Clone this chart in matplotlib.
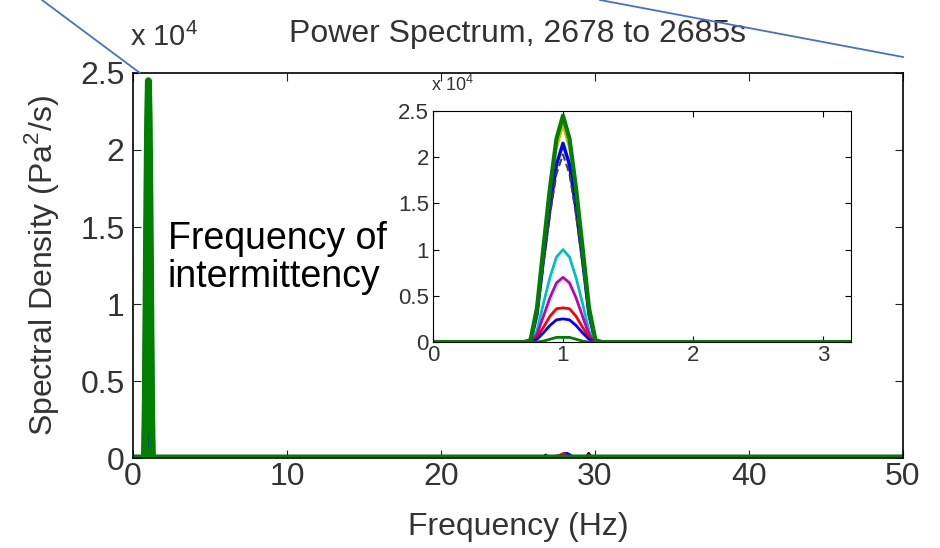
import matplotlib
matplotlib.use("Agg")
import matplotlib.pyplot as plt
from matplotlib.lines import Line2D

plt.rcParams['font.family'] = ['Liberation Sans', 'DejaVu Sans']
plt.rcParams['mathtext.fontset'] = 'custom'
plt.rcParams['mathtext.rm'] = 'Liberation Sans'

# peak around the intermittency frequency (Hz), values in 1e4 Pa^2/s
freq = [0.0, 0.70, 0.75, 0.80, 0.85, 0.90, 0.95, 1.00, 1.05, 1.10, 1.15, 1.20, 1.25, 1.30, 50.0]
yellow = [0, 0, 0.02, 0.35, 0.98, 1.60, 2.10, 2.35, 2.10, 1.60, 0.98, 0.35, 0.02, 0, 0]
blue1 = [0, 0, 0, 0.30, 0.90, 1.45, 1.92, 2.15, 1.92, 1.45, 0.90, 0.30, 0, 0, 0]
gray = [0, 0, 0, 0.28, 0.85, 1.38, 1.82, 2.03, 1.82, 1.38, 0.85, 0.28, 0, 0, 0]
cyan = [0, 0, 0, 0.12, 0.42, 0.70, 0.92, 1.00, 0.92, 0.70, 0.42, 0.12, 0, 0, 0]
magenta = [0, 0, 0, 0.08, 0.28, 0.48, 0.64, 0.70, 0.64, 0.48, 0.28, 0.08, 0, 0, 0]
red = [0, 0, 0, 0.05, 0.16, 0.28, 0.36, 0.37, 0.36, 0.28, 0.16, 0.05, 0, 0, 0]
blue2 = [0, 0, 0, 0.03, 0.10, 0.18, 0.24, 0.25, 0.24, 0.18, 0.10, 0.03, 0, 0, 0]
green2 = [0, 0, 0, 0, 0.01, 0.03, 0.05, 0.05, 0.05, 0.03, 0.01, 0, 0, 0, 0]
green = [0, 0, 0.02, 0.37, 1.03, 1.67, 2.20, 2.45, 2.20, 1.67, 1.03, 0.37, 0.02, 0, 0]

# small bumps near 28 Hz
blip_freq = [26.6, 26.8, 27.0, 27.8, 28.0, 28.2, 28.4, 28.6, 29.4, 29.6, 29.8]
blip_blue = [0, 0, 0, 0.02, 0.03, 0.03, 0.02, 0, 0, 0, 0]
blip_red = [0, 0, 0, 0.02, 0.03, 0, 0, 0, 0, 0.02, 0]
blip_black = [0, 0.02, 0, 0, 0, 0, 0, 0, 0, 0.03, 0]

series = [
    (yellow, (0.75, 0.75, 0), '-', 2),
    (blue1, (0, 0, 1), '-', 2.5),
    (gray, (0.25, 0.25, 0.25), '--', 1.5),
    (cyan, (0, 0.75, 0.75), '-', 2),
    (magenta, (0.75, 0, 0.75), '-', 2),
    (red, (1, 0, 0), '-', 2),
    (blue2, (0, 0, 1), '-', 2),
    (green2, (0, 0.5, 0), '-', 2),
    (green, (0, 0.5, 0), '-', 3),
]

txt = '#333333'
fig = plt.figure(figsize=(9.4, 5.48), dpi=100)
ax = fig.add_axes([0.1415, 0.1642, 0.819, 0.7026])

ax.plot(blip_freq, blip_black, color='k', lw=2)
ax.plot(blip_freq, blip_blue, color='b', lw=2)
ax.plot(blip_freq, blip_red, color='r', lw=2)
for vals, c, ls, lw in series:
    ax.plot(freq, vals, color=c, ls=ls, lw=lw + 2)

ax.set_xlim(0, 50)
ax.set_ylim(0, 2.5)
ax.set_xticks([0, 10, 20, 30, 40, 50])
ax.set_yticks([0, 0.5, 1, 1.5, 2, 2.5])
ax.set_yticklabels(['0', '0.5', '1', '1.5', '2', '2.5'])
ax.tick_params(direction='in', top=True, right=True, labelsize=23, length=6,
               color='#222222', labelcolor=txt, pad=3)
ax.tick_params(axis='y', pad=6)
for s in ax.spines.values():
    s.set_linewidth(1.2)
ax.set_title('Power Spectrum, 2678 to 2685s', fontsize=23, color=txt, pad=22)
ax.set_xlabel('Frequency (Hz)', fontsize=23, color=txt, labelpad=14)
ax.set_ylabel('Spectral Density (Pa$^2$/s)', fontsize=23, color=txt, labelpad=14)
fig.text(0.138, 0.905, r'x 10$^4$', fontsize=21, color=txt, ha='left', va='bottom')

ax.text(0.045, 0.52, 'Frequency of\nintermittency', transform=ax.transAxes,
        fontsize=27, ha='left', va='center', linespacing=1.05)

# inset zoom
ins = fig.add_axes([0.4606, 0.3759, 0.4447, 0.4215])
for vals, c, ls, lw in series:
    ins.plot(freq, vals, color=c, ls=ls, lw=lw)
ins.set_xlim(0, 3.215)
ins.set_ylim(0, 2.5)
ins.set_xticks([0, 1, 2, 3])
ins.set_yticks([0, 0.5, 1, 1.5, 2, 2.5])
ins.set_yticklabels(['0', '0.5', '1', '1.5', '2', '2.5'])
ins.tick_params(direction='in', top=True, right=True, labelsize=16, length=4, pad=2,
                labelcolor=txt)
ins.tick_params(axis='y', pad=3)
fig.text(0.459, 0.826, r'x 10$^4$', fontsize=13, color=txt, ha='left', va='bottom')

# callout lines
fig.add_artist(Line2D([42 / 940, 140 / 940], [1, 1 - 73 / 548], color='#4472C4', lw=1.3))
fig.add_artist(Line2D([600 / 940, 903 / 940], [1, 1 - 57 / 548], color='#4472C4', lw=1.3))

fig.savefig('out.png', dpi=100)
